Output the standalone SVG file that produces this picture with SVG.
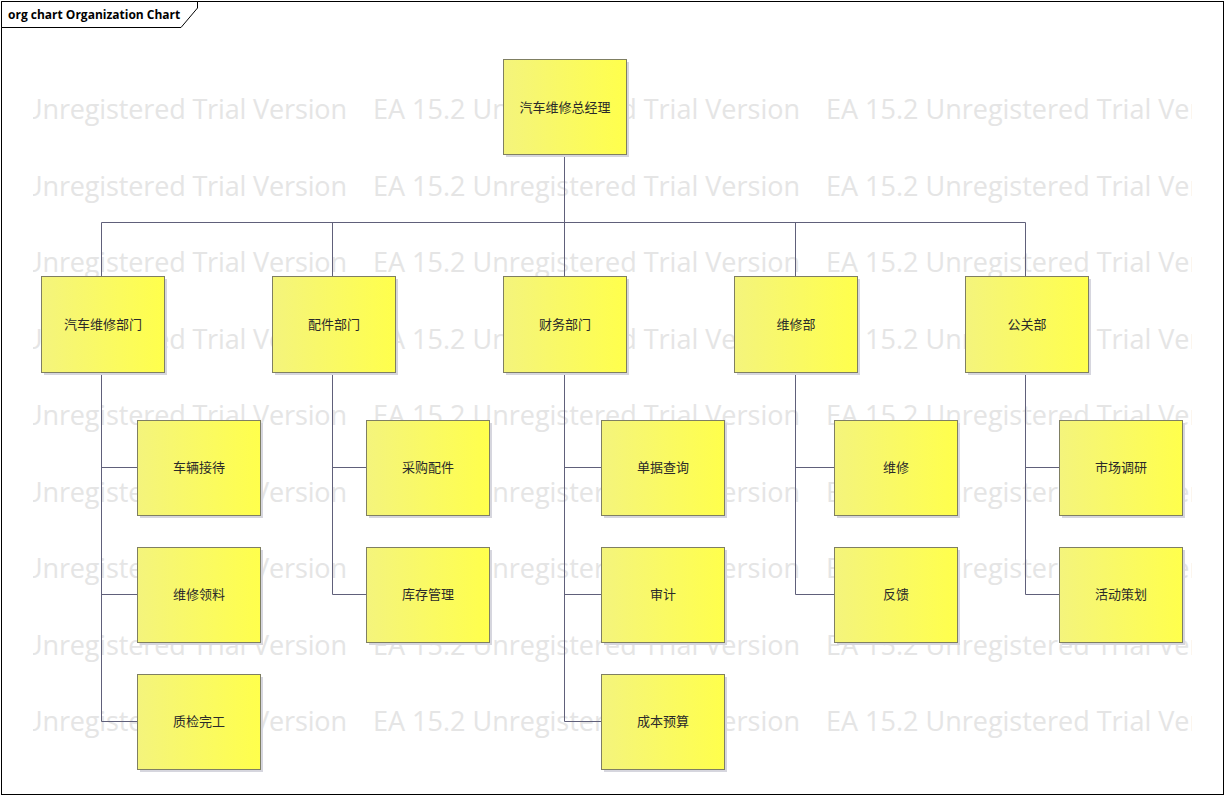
<svg xmlns="http://www.w3.org/2000/svg" width="1226" height="797" viewBox="0 0 1226 797">
<style>
.wm{font-family:"Open Sans","Liberation Sans",sans-serif;font-size:27px;fill:#e5e5e5;}
.box{fill:url(#yg);stroke:#7f7f62;stroke-width:1;}
.sh{fill:#d6d6de;}
.lbl{font-family:"Noto Sans CJK SC","Noto Sans",sans-serif;font-size:13px;fill:#2a2a2a;text-anchor:middle;dominant-baseline:central;}
.ln{stroke:#60607a;stroke-width:1;fill:none;}
</style>
<defs>
<linearGradient id="yg" x1="0" y1="0" x2="1" y2="0">
<stop offset="0" stop-color="#f4f47c"/>
<stop offset="1" stop-color="#ffff4c"/>
</linearGradient>
<clipPath id="wmc"><rect x="33" y="80" width="1159" height="670"/></clipPath>
</defs>
<rect x="0" y="0" width="1226" height="797" fill="#fff"/>
<g id="watermark" clip-path="url(#wmc)">
<g id="wmrow">
<text class="wm" x="23" y="119" textLength="324">Unregistered Trial Version</text>
<text class="wm" x="373" y="119" textLength="427">EA 15.2 Unregistered Trial Version</text>
<text class="wm" x="826" y="119" textLength="427">EA 15.2 Unregistered Trial Version</text>
</g>
<use href="#wmrow" y="76.5"/>
<use href="#wmrow" y="153"/>
<use href="#wmrow" y="229.5"/>
<use href="#wmrow" y="306"/>
<use href="#wmrow" y="382.5"/>
<use href="#wmrow" y="459"/>
<use href="#wmrow" y="535.5"/>
<use href="#wmrow" y="612"/>
</g>
<rect x="1.5" y="1.5" width="1222" height="793" fill="none" stroke="#000" stroke-width="1"/>
<polygon points="1.5,1.5 197.5,1.5 197.5,8 181,27.5 1.5,27.5" fill="#fff" stroke="#000" stroke-width="1"/>
<text x="8" y="19" font-family="'Open Sans','Liberation Sans',sans-serif" font-size="12" font-weight="bold" fill="#000">org chart Organization Chart</text>

<g id="connectors">
<path class="ln" d="M564.5,154 V222.5 M101.5,222.5 H1025.5 M101.5,222.5 V276 M332.5,222.5 V276 M564.5,222.5 V276 M795.5,222.5 V276 M1025.5,222.5 V276"/>
<path class="ln" d="M101.5,372 V721.5 H137 M101.5,467.5 H137 M101.5,594.5 H137"/>
<path class="ln" d="M332.5,372 V594.5 H366 M332.5,467.5 H366"/>
<path class="ln" d="M564.5,372 V721.5 H601 M564.5,467.5 H601 M564.5,594.5 H601"/>
<path class="ln" d="M795.5,372 V594.5 H834 M795.5,467.5 H834"/>
<path class="ln" d="M1025.5,372 V594.5 H1059 M1025.5,467.5 H1059"/>
</g>

<g id="n_top"><rect class="sh" x="506" y="62" width="123" height="95"/><rect class="box" x="503.5" y="59.5" width="123" height="95"/><text class="lbl" x="565" y="106">汽车维修总经理</text></g>

<g id="n_d1"><rect class="sh" x="44" y="279" width="123" height="96"/><rect class="box" x="41.5" y="276.5" width="123" height="96"/><text class="lbl" x="103" y="323.5">汽车维修部门</text></g>
<g id="n_d2"><rect class="sh" x="275" y="279" width="123" height="96"/><rect class="box" x="272.5" y="276.5" width="123" height="96"/><text class="lbl" x="334" y="323.5">配件部门</text></g>
<g id="n_d3"><rect class="sh" x="506" y="279" width="123" height="96"/><rect class="box" x="503.5" y="276.5" width="123" height="96"/><text class="lbl" x="565" y="323.5">财务部门</text></g>
<g id="n_d4"><rect class="sh" x="737" y="279" width="123" height="96"/><rect class="box" x="734.5" y="276.5" width="123" height="96"/><text class="lbl" x="796" y="323.5">维修部</text></g>
<g id="n_d5"><rect class="sh" x="968" y="279" width="123" height="96"/><rect class="box" x="965.5" y="276.5" width="123" height="96"/><text class="lbl" x="1027" y="323.5">公关部</text></g>

<g id="n_c11"><rect class="sh" x="140" y="423" width="123" height="95"/><rect class="box" x="137.5" y="420.5" width="123" height="95"/><text class="lbl" x="199" y="466.5">车辆接待</text></g>
<g id="n_c12"><rect class="sh" x="140" y="550" width="123" height="95"/><rect class="box" x="137.5" y="547.5" width="123" height="95"/><text class="lbl" x="199" y="593.5">维修领料</text></g>
<g id="n_c13"><rect class="sh" x="140" y="677" width="123" height="95"/><rect class="box" x="137.5" y="674.5" width="123" height="95"/><text class="lbl" x="199" y="720.5">质检完工</text></g>

<g id="n_c21"><rect class="sh" x="369" y="423" width="123" height="95"/><rect class="box" x="366.5" y="420.5" width="123" height="95"/><text class="lbl" x="428" y="466.5">采购配件</text></g>
<g id="n_c22"><rect class="sh" x="369" y="550" width="123" height="95"/><rect class="box" x="366.5" y="547.5" width="123" height="95"/><text class="lbl" x="428" y="593.5">库存管理</text></g>

<g id="n_c31"><rect class="sh" x="604" y="423" width="123" height="95"/><rect class="box" x="601.5" y="420.5" width="123" height="95"/><text class="lbl" x="663" y="466.5">单据查询</text></g>
<g id="n_c32"><rect class="sh" x="604" y="550" width="123" height="95"/><rect class="box" x="601.5" y="547.5" width="123" height="95"/><text class="lbl" x="663" y="593.5">审计</text></g>
<g id="n_c33"><rect class="sh" x="604" y="677" width="123" height="95"/><rect class="box" x="601.5" y="674.5" width="123" height="95"/><text class="lbl" x="663" y="720.5">成本预算</text></g>

<g id="n_c41"><rect class="sh" x="837" y="423" width="123" height="95"/><rect class="box" x="834.5" y="420.5" width="123" height="95"/><text class="lbl" x="896" y="466.5">维修</text></g>
<g id="n_c42"><rect class="sh" x="837" y="550" width="123" height="95"/><rect class="box" x="834.5" y="547.5" width="123" height="95"/><text class="lbl" x="896" y="593.5">反馈</text></g>

<g id="n_c51"><rect class="sh" x="1062" y="423" width="123" height="95"/><rect class="box" x="1059.5" y="420.5" width="123" height="95"/><text class="lbl" x="1121" y="466.5">市场调研</text></g>
<g id="n_c52"><rect class="sh" x="1062" y="550" width="123" height="95"/><rect class="box" x="1059.5" y="547.5" width="123" height="95"/><text class="lbl" x="1121" y="593.5">活动策划</text></g>
</svg>
